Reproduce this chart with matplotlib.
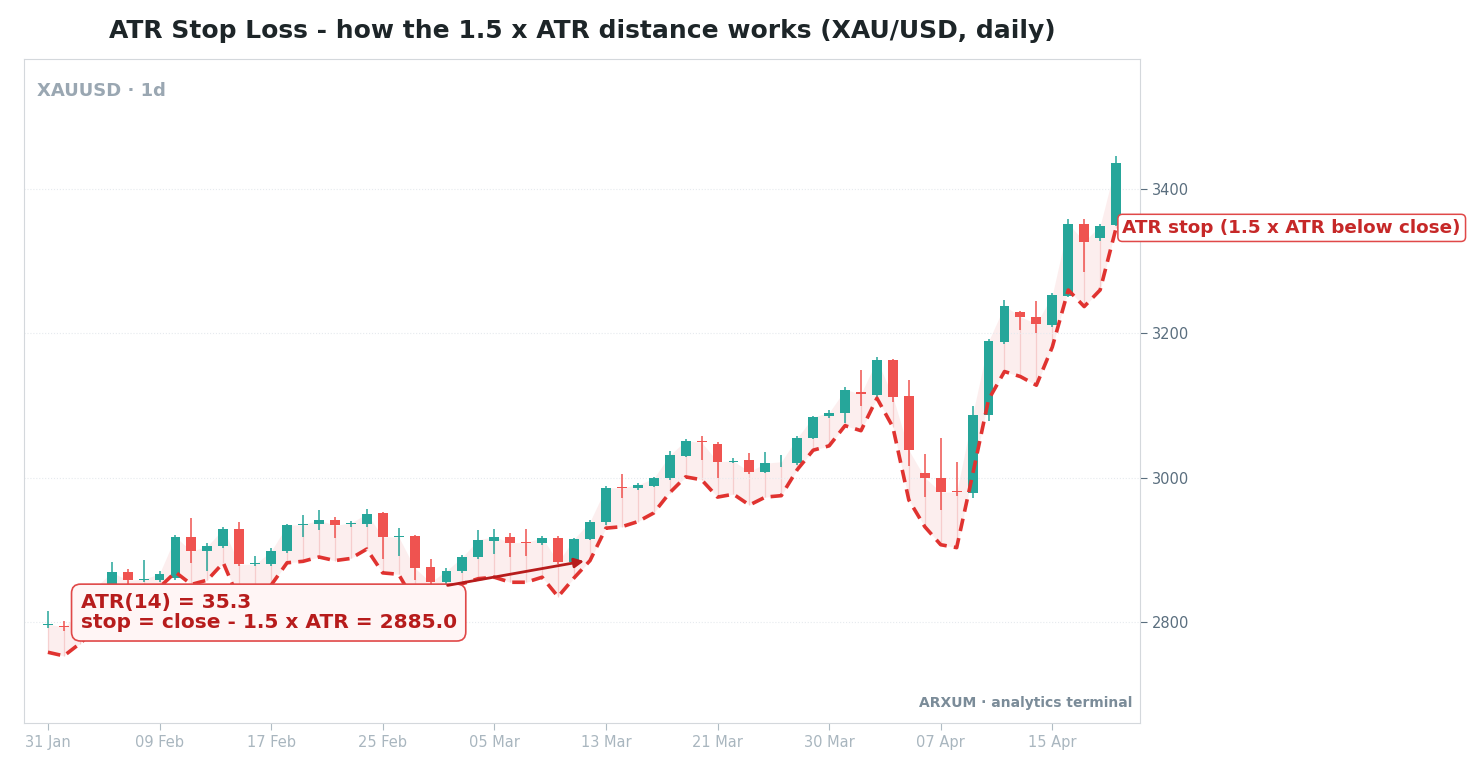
import matplotlib
matplotlib.use("Agg")
import matplotlib.pyplot as plt
import numpy as np

tick_labels = ["31 Jan", "09 Feb", "17 Feb", "25 Feb", "05 Mar", "13 Mar", "21 Mar", "30 Mar", "07 Apr", "15 Apr"]

opens = [2796, 2795, 2793, 2812, 2850, 2869, 2858, 2858, 2861, 2918,
         2898, 2905, 2929, 2880, 2880, 2898, 2934, 2936, 2941, 2936,
         2936, 2951, 2918, 2919, 2876, 2855, 2871, 2890, 2912, 2918,
         2911, 2910, 2917, 2883, 2915, 2938, 2987, 2985, 2989, 2999,
         3030, 3050, 3047, 3022, 3025, 3008, 3021, 3020, 3055, 3085,
         3090, 3119, 3115, 3163, 3113, 3007, 3000, 2981, 2979, 3087,
         3188, 3230, 3223, 3212, 3252, 3352, 3332, 3350]
closes = [2797, 2793, 2812, 2848, 2869, 2858, 2859, 2867, 2918, 2898,
          2905, 2929, 2880, 2880, 2898, 2934, 2935, 2941, 2934, 2937,
          2950, 2918, 2918, 2875, 2855, 2871, 2890, 2914, 2918, 2910,
          2910, 2917, 2883, 2915, 2939, 2986, 2986, 2990, 2999, 3031,
          3051, 3049, 3022, 3023, 3008, 3020, 3022, 3055, 3084, 3090,
          3122, 3116, 3163, 3112, 3038, 3000, 2980, 2980, 3087, 3189,
          3238, 3223, 3213, 3253, 3352, 3327, 3349, 3436]
highs = [2815, 2802, 2818, 2852, 2883, 2873, 2886, 2870, 2921, 2944,
         2910, 2932, 2938, 2892, 2903, 2936, 2948, 2955, 2945, 2940,
         2956, 2953, 2930, 2921, 2887, 2875, 2893, 2927, 2929, 2923,
         2929, 2919, 2919, 2917, 2941, 2989, 3005, 2993, 3001, 3037,
         3053, 3058, 3049, 3027, 3034, 3035, 3032, 3058, 3086, 3094,
         3126, 3149, 3167, 3165, 3135, 3033, 3055, 3022, 3099, 3192,
         3246, 3231, 3245, 3256, 3358, 3358, 3352, 3446]
lows = [2792, 2788, 2790, 2808, 2846, 2852, 2856, 2855, 2858, 2881,
        2870, 2902, 2877, 2877, 2878, 2896, 2918, 2928, 2917, 2932,
        2932, 2887, 2891, 2858, 2850, 2850, 2868, 2887, 2894, 2890,
        2892, 2906, 2880, 2880, 2913, 2935, 2972, 2983, 2987, 2997,
        3028, 3025, 3000, 3020, 3005, 3006, 3015, 3018, 3053, 3083,
        3076, 3099, 3112, 3105, 3016, 2973, 2955, 2975, 2972, 3078,
        3185, 3204, 3200, 3208, 3250, 3285, 3328, 3348]
stops = [2758, 2753, 2770, 2790, 2812, 2825, 2835, 2848, 2869, 2852,
         2858, 2882, 2830, 2825, 2851, 2882, 2884, 2890, 2885, 2888,
         2901, 2868, 2866, 2828, 2818, 2835, 2853, 2860, 2862, 2855,
         2855, 2862, 2835, 2861, 2885, 2930, 2932, 2939, 2951, 2979,
         3001, 2997, 2973, 2977, 2962, 2973, 2975, 3011, 3038, 3044,
         3072, 3065, 3110, 3070, 2969, 2932, 2907, 2903, 3004, 3108,
         3147, 3140, 3128, 3181, 3260, 3237, 3260, 3346]

GREEN = "#26a69a"
RED = "#ef5350"

fig = plt.figure(figsize=(14.84, 7.74), dpi=100)
ax = fig.add_axes([24/1484, 1-723/774, (1140-24)/1484, (723-59)/774])
x = np.arange(len(closes))

ax.fill_between(x, stops, closes, color="#f8d0d0", alpha=0.35, lw=0, zorder=1)
ax.vlines(x, stops, closes, color="#f2b8b8", lw=0.9, alpha=0.6, zorder=1)

for i in range(len(x)):
    c = GREEN if closes[i] >= opens[i] else RED
    ax.vlines(i, lows[i], highs[i], color=c, lw=1.1, zorder=3)
    lo = min(opens[i], closes[i]); h = max(abs(closes[i]-opens[i]), 1.2)
    ax.bar(i, h, bottom=lo, width=0.62, color=c, zorder=3, lw=0)

ax.plot(x, stops, color="#e03330", lw=2.6, ls=(0, (3.5, 2)), zorder=4)

ax.set_xlim(-1.5, len(x) - 0.5 + 1.0)
ax.set_ylim(2660, 3580)
ax.yaxis.tick_right()
ax.set_yticks([2800, 3000, 3200, 3400])
ax.tick_params(axis="y", colors="#5a6e7e", labelsize=10.5, length=5, labelcolor="#5a6e7e")
ax.set_xticks(np.arange(0, 64, 7))
ax.set_xticklabels(tick_labels)
ax.tick_params(axis="x", colors="#b0bcc4", labelsize=10.5, length=5, labelcolor="#a9b6bf")
ax.grid(axis="y", color="#e6eaee", ls=":", lw=0.8)
for s in ax.spines.values():
    s.set_color("#d4d8dc")

ax.text(0.012, 0.965, "XAUUSD · 1d", transform=ax.transAxes, fontsize=13, fontweight="bold",
        color="#9aa7b2", va="top")
ax.text(0.993, 0.02, "ARXUM · analytics terminal", transform=ax.transAxes, fontsize=10,
        fontweight="bold", color="#7b8c99", ha="right", va="bottom")

ax.text(2.05, 2813, "ATR(14) = 35.3\nstop = close - 1.5 x ATR = 2885.0", fontsize=14.5,
        fontweight="bold", color="#b71c1c", va="center", ha="left", linespacing=1.05,
        bbox=dict(boxstyle="round,pad=0.45", fc="#fff5f5", ec="#e04848", lw=1.2), zorder=6)
ax.annotate("", xy=(33.8, 2885), xytext=(24.9, 2850),
            arrowprops=dict(arrowstyle="-|>", color="#b71c1c", lw=2, mutation_scale=14), zorder=6)

ax.text(67.4, 3346, "ATR stop (1.5 x ATR below close)", fontsize=13.2, fontweight="bold",
        color="#c62828", va="center", ha="left", clip_on=False,
        bbox=dict(boxstyle="round,pad=0.25", fc="white", ec="#e04848", lw=1.1), zorder=7)

fig.suptitle("ATR Stop Loss - how the 1.5 x ATR distance works (XAU/USD, daily)", x=582/1484, y=0.975,
             fontsize=18, fontweight="bold", color="#1d2528")
fig.savefig("out.png", dpi=100, facecolor="white")
